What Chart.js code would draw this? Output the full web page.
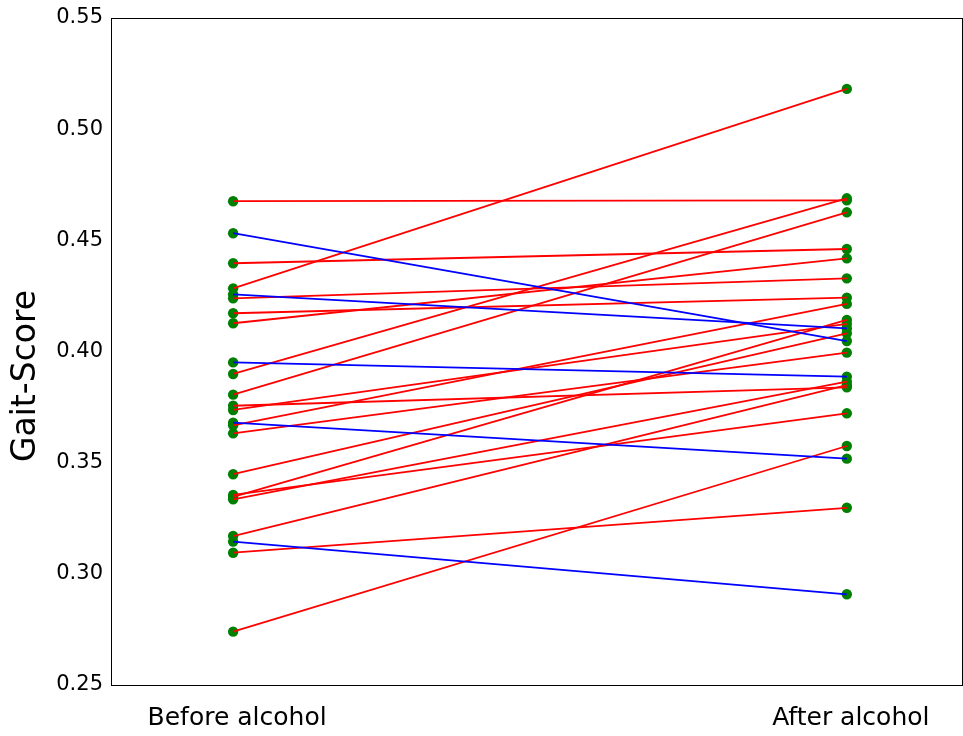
<!DOCTYPE html>
<html>
<head>
<meta charset="utf-8">
<script src="https://cdn.jsdelivr.net/npm/chart.js@4"></script>
<style>
  html, body { margin: 0; padding: 0; background: #fff; overflow: hidden; }
  #wrap { width: 968px; height: 736px; }
</style>
</head>
<body>
<div id="wrap"><canvas id="chart" width="968" height="736"></canvas></div>
<script>
// groups on the x axis
const categories = ['Before alcohol', 'After alcohol'];

// gait score per subject, same order in both arrays
const beforeScores = [0.4676, 0.4532, 0.4397, 0.4284, 0.4257, 0.4239, 0.4172, 0.4127,
  0.3951, 0.3899, 0.3806, 0.3756, 0.3737, 0.3680, 0.3668, 0.3632,
  0.3448, 0.3355, 0.3346, 0.3335, 0.3170, 0.3145, 0.3095, 0.2740];
const afterScores = [0.4680, 0.4047, 0.4461, 0.5181, 0.4104, 0.4329, 0.4242, 0.4419,
  0.3887, 0.4689, 0.4626, 0.3839, 0.4124, 0.3518, 0.4214, 0.3995,
  0.4082, 0.3722, 0.4142, 0.3864, 0.3849, 0.2908, 0.3297, 0.3575];

const yTicks = [0.25, 0.30, 0.35, 0.40, 0.45, 0.50, 0.55];
const yTitle = 'Gait-Score';

// one line per subject, red if the score went up, blue if it went down
const lineSets = beforeScores.map((b, i) => ({
  type: 'line',
  data: [{ x: 0, y: b }, { x: 1, y: afterScores[i] }],
  borderColor: afterScores[i] >= b ? '#ff0000' : '#0000ff',
  borderWidth: 1.8,
  pointRadius: 0,
  fill: false,
  tension: 0,
  order: 1
}));

const pointSet = {
  type: 'scatter',
  data: beforeScores.map(v => ({ x: 0, y: v })).concat(afterScores.map(v => ({ x: 1, y: v }))),
  backgroundColor: '#007f00',
  borderWidth: 0,
  pointRadius: 5.2,
  order: 2
};

// black box round the plot area, plus the rotated y title
const frame = {
  id: 'frame',
  afterDraw(chart) {
    const a = chart.chartArea;
    const ctx = chart.ctx;
    ctx.save();
    ctx.strokeStyle = '#000';
    ctx.lineWidth = 1;
    ctx.strokeRect(Math.round(a.left) + 0.5, Math.round(a.top) + 0.5,
      Math.min(Math.round(a.right), 963) - Math.round(a.left) - 1, Math.round(a.bottom - a.top));
    ctx.translate(26, 376);
    ctx.rotate(-Math.PI / 2);
    ctx.fillStyle = '#000';
    ctx.font = '33px "DejaVu Sans"';
    ctx.textAlign = 'center';
    ctx.textBaseline = 'middle';
    ctx.fillText(yTitle, 0, 0);
    ctx.restore();
  }
};

new Chart(document.getElementById('chart'), {
  data: { datasets: [pointSet, ...lineSets] },
  options: {
    responsive: false,
    animation: false,
    layout: { padding: { top: 18, right: 0, left: 0, bottom: 0 } },
    plugins: { legend: { display: false }, tooltip: { enabled: false } },
    scales: {
      x: {
        type: 'linear',
        min: -0.199,
        max: 1.189,
        afterBuildTicks: s => { s.ticks = categories.map((c, i) => ({ value: i })); },
        afterFit: s => { s.height = 51; },
        grid: { display: false, drawTicks: false },
        border: { display: false },
        ticks: {
          padding: 18,
          labelOffset: 4,
          color: '#000',
          font: { family: 'DejaVu Sans', size: 25 },
          callback: v => categories[v]
        }
      },
      y: {
        min: 0.25,
        max: 0.55,
        afterBuildTicks: s => { s.ticks = yTicks.map(v => ({ value: v })); },
        afterFit: s => { s.width = 111; },
        grid: { display: false, drawTicks: true, tickLength: 6, color: '#000' },
        border: { display: false },
        ticks: {
          padding: 2,
          color: '#000',
          font: { family: 'DejaVu Sans', size: 21 },
          callback: v => Number(v).toFixed(2)
        }
      }
    }
  },
  plugins: [frame]
});
</script>
</body>
</html>
